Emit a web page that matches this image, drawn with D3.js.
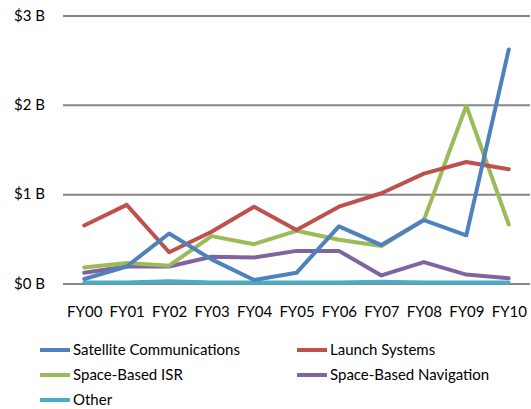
<!DOCTYPE html>
<html>
<head>
<meta charset="utf-8">
<script src="https://cdn.jsdelivr.net/npm/d3@7"></script>
<style>
  html, body { margin: 0; padding: 0; background: #fff; }
  svg { display: block; }
  text { font-family: Lato, "Open Sans", sans-serif; fill: #000; }
</style>
</head>
<body>
<svg id="chart" width="531" height="409"></svg>
<script>
// Fiscal years on the x axis
const years = ["FY00","FY01","FY02","FY03","FY04","FY05","FY06","FY07","FY08","FY09","FY10"];

// Spending by segment, billions of dollars
const satelliteCommunications = [0.05, 0.19, 0.56, 0.27, 0.04, 0.12, 0.64, 0.43, 0.71, 0.54, 2.62];
const launchSystems           = [0.65, 0.88, 0.35, 0.58, 0.86, 0.60, 0.86, 1.01, 1.23, 1.36, 1.28];
const spaceBasedISR           = [0.18, 0.23, 0.20, 0.53, 0.44, 0.59, 0.49, 0.42, 0.71, 1.99, 0.66];
const spaceBasedNavigation    = [0.12, 0.19, 0.19, 0.30, 0.29, 0.365, 0.365, 0.09, 0.24, 0.10, 0.06];
const other                   = [0.01, 0.01, 0.025, 0.01, 0.01, 0.01, 0.01, 0.02, 0.01, 0.01, 0.01];

const seriesNames  = ["Satellite Communications", "Launch Systems", "Space-Based ISR", "Space-Based Navigation", "Other"];
const seriesValues = [satelliteCommunications, launchSystems, spaceBasedISR, spaceBasedNavigation, other];
const seriesColors = ["#4F81BD", "#C0504D", "#9BBB59", "#8064A2", "#4BACC6"];

const yTicks = [0, 1, 2, 3];
const yTickLabels = ["$0 B", "$1 B", "$2 B", "$3 B"];

const svg = d3.select("#chart");

const plot = { left: 63, right: 530, top: 15.5, bottom: 283.5 };
const fontSize = 15;

const x = d3.scalePoint()
  .domain(years)
  .range([plot.left, plot.right])
  .padding(0.5);

const y = d3.scaleLinear()
  .domain([0, 3])
  .range([plot.bottom, plot.top]);

// Horizontal gridlines with the value labels
const yAxis = d3.axisLeft(y)
  .tickValues(yTicks)
  .tickFormat((d, i) => yTickLabels[i])
  .tickSize(-(plot.right - plot.left))
  .tickPadding(18);

const gy = svg.append("g")
  .attr("transform", `translate(${plot.left},0)`)
  .call(yAxis);
gy.select(".domain").remove();
gy.selectAll(".tick line").attr("stroke", "#868686").attr("stroke-width", 2);
gy.selectAll(".tick text").attr("font-size", fontSize).style("font-family", "Lato, 'Open Sans', sans-serif").attr("fill", "#000");

// Category labels under the zero line
const xAxis = d3.axisBottom(x).tickSize(0).tickPadding(23);
const gx = svg.append("g")
  .attr("transform", `translate(0,${plot.bottom})`)
  .call(xAxis);
gx.select(".domain").remove();
gx.selectAll(".tick text").attr("font-size", fontSize).style("font-family", "Lato, 'Open Sans', sans-serif").attr("fill", "#000");

// One line per segment
const line = d3.line()
  .x((d, i) => x(years[i]))
  .y(d => y(d));

svg.append("g")
  .selectAll("path")
  .data(seriesValues.map((v, i) => ({ v, i })).reverse())
  .join("path")
  .attr("d", d => line(d.v))
  .attr("fill", "none")
  .attr("stroke", d => seriesColors[d.i])
  .attr("stroke-width", 4)
  .attr("stroke-linejoin", "round")
  .attr("stroke-linecap", "round");

// Legend in two columns
const legendCols = [40, 297];
const legendRows = [350, 375, 400];
const legend = svg.append("g")
  .selectAll("g")
  .data(seriesNames)
  .join("g")
  .attr("transform", (d, i) => `translate(${legendCols[i % 2]},${legendRows[Math.floor(i / 2)]})`);

legend.append("line")
  .attr("x1", 0).attr("x2", 30)
  .attr("y1", 0).attr("y2", 0)
  .attr("stroke", (d, i) => seriesColors[i])
  .attr("stroke-width", 4);

legend.append("text")
  .attr("x", 33)
  .attr("y", 0)
  .attr("dy", "0.35em")
  .attr("font-size", fontSize)
  .text(d => d);
</script>
</body>
</html>
